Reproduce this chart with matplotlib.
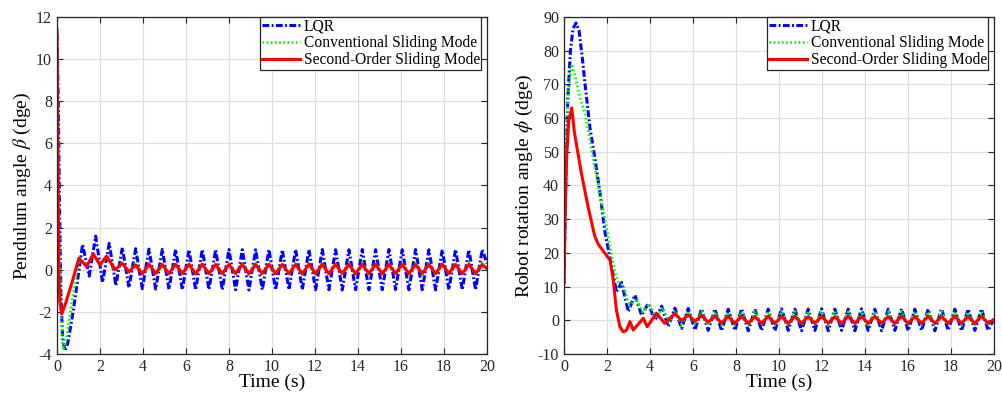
import numpy as np
import matplotlib
matplotlib.use("Agg")
import matplotlib.pyplot as plt

plt.rcParams['font.family'] = ['Liberation Serif', 'DejaVu Serif']
plt.rcParams['mathtext.fontset'] = 'stix'
plt.rcParams['axes.unicode_minus'] = False

labels = ["LQR", "Conventional Sliding Mode", "Second-Order Sliding Mode"]

# ---- left panel: pendulum angle ----
# transient part (time, value)
beta_lqr_t = [0.0, 0.06, 0.12, 0.18, 0.26, 0.37, 0.5, 0.75, 1.0, 1.19, 1.5, 1.8, 2.12, 2.43, 2.74]
beta_lqr_y = [11.2, 8.0, 3.0, -1.0, -3.2, -3.85, -3.5, -2.0, -0.2, 1.2, -0.3, 1.6, -0.6, 1.25, -0.75]
beta_csm_t = [0.0, 0.05, 0.1, 0.17, 0.24, 0.3, 0.45, 0.7, 0.95, 1.1, 1.38, 1.7, 2.0, 2.31, 2.7]
beta_csm_y = [11.2, 7.0, 2.5, -1.5, -3.3, -3.8, -3.2, -1.5, 0.1, 0.55, 0.2, 0.7, 0.2, 0.6, -0.05]
beta_sosm_t = [0.0, 0.04, 0.08, 0.13, 0.22, 0.4, 0.7, 1.02, 1.38, 1.69, 2.0, 2.31, 2.7]
beta_sosm_y = [11.4, 6.0, 0.5, -1.5, -2.1, -1.6, -0.6, 0.55, 0.15, 0.75, 0.23, 0.65, 0.0]

# steady oscillation: times of peaks / troughs shared by the three curves
beta_ss_t = [3.04, 3.35, 3.66, 3.97, 4.28, 4.59, 4.90, 5.21, 5.52, 5.83,
             6.14, 6.45, 6.76, 7.07, 7.38, 7.69, 8.00, 8.31, 8.62, 8.93,
             9.24, 9.55, 9.86, 10.17, 10.48, 10.79, 11.10, 11.41, 11.72, 12.03,
             12.34, 12.65, 12.96, 13.27, 13.58, 13.89, 14.20, 14.51, 14.82, 15.13,
             15.44, 15.75, 16.06, 16.37, 16.68, 16.99, 17.30, 17.61, 17.92, 18.23,
             18.54, 18.85, 19.16, 19.47, 19.78, 20.00]
beta_ss_lqr = [1.05, -0.85, 1.0, -0.9, 0.98, -0.92, 0.97, -0.93, 0.96, -0.95,
               0.95, -0.95, 0.96, -0.94, 0.95, -0.95, 0.96, -0.95, 0.95, -0.96,
               0.95, -0.95, 0.96, -0.95, 0.95, -0.95, 0.96, -0.94, 0.95, -0.95,
               0.96, -0.95, 0.95, -0.96, 0.95, -0.95, 0.96, -0.95, 0.95, -0.95,
               0.96, -0.94, 0.95, -0.95, 0.96, -0.95, 0.95, -0.96, 0.95, -0.95,
               0.96, -0.95, 0.95, -0.95, 0.96, 0.3]
beta_ss_csm = [0.35, -0.15, 0.32, -0.2, 0.3, -0.22, 0.3, -0.22, 0.3, -0.23,
               0.3, -0.23, 0.31, -0.22, 0.3, -0.23, 0.3, -0.22, 0.31, -0.23,
               0.3, -0.23, 0.3, -0.22, 0.31, -0.23, 0.3, -0.22, 0.3, -0.23,
               0.31, -0.22, 0.3, -0.23, 0.3, -0.22, 0.31, -0.23, 0.3, -0.23,
               0.3, -0.22, 0.31, -0.23, 0.3, -0.22, 0.3, -0.23, 0.31, -0.22,
               0.3, -0.23, 0.3, -0.22, 0.3, 0.1]
beta_ss_sosm = [0.3, -0.1, 0.23, -0.2, 0.26, -0.18, 0.25, -0.19, 0.26, -0.18,
                0.25, -0.19, 0.26, -0.18, 0.25, -0.19, 0.25, -0.18, 0.26, -0.19,
                0.25, -0.18, 0.26, -0.19, 0.25, -0.18, 0.25, -0.19, 0.26, -0.18,
                0.25, -0.19, 0.26, -0.18, 0.25, -0.19, 0.25, -0.18, 0.26, -0.19,
                0.25, -0.18, 0.26, -0.19, 0.25, -0.18, 0.25, -0.19, 0.26, -0.18,
                0.25, -0.19, 0.26, -0.18, 0.25, 0.05]

# ---- right panel: robot rotation angle ----
phi_lqr_t = [0.0, 0.08, 0.18, 0.3, 0.42, 0.56, 0.7, 0.85, 0.98, 1.21, 1.44, 1.67, 1.91, 2.14,
             2.44, 2.68, 2.99, 3.3, 3.61, 3.92, 4.23, 4.54, 4.85]
phi_lqr_y = [11.0, 40.0, 66.0, 80.0, 86.5, 88.2, 86.0, 78.0, 70.0, 57.0, 48.0, 38.0, 26.0, 18.5,
             8.5, 11.2, 2.6, 7.5, 1.5, 5.0, 0.0, 4.2, -1.8]
phi_csm_t = [0.0, 0.08, 0.2, 0.36, 0.5, 0.75, 1.0, 1.3, 1.6, 1.9, 2.14, 2.37, 2.55,
             2.75, 3.05, 3.35, 3.66, 3.97, 4.28, 4.59, 4.9]
phi_csm_y = [11.0, 45.0, 68.0, 76.0, 73.0, 66.0, 61.0, 50.0, 40.0, 30.0, 22.0, 14.0, 11.0,
             10.5, 4.0, 6.5, 2.5, 4.8, 0.6, 3.8, -0.6]
phi_sosm_t = [0.0, 0.05, 0.12, 0.22, 0.36, 0.49, 0.81, 1.12, 1.43, 1.6, 1.83, 2.14, 2.29, 2.44,
              2.6, 2.75, 2.9, 3.07, 3.22, 3.69, 3.87, 4.3, 4.68]
phi_sosm_y = [11.0, 30.0, 48.0, 59.0, 63.0, 55.5, 43.6, 33.7, 25.0, 22.5, 20.5, 17.9, 12.0, 3.0,
              -1.9, -3.4, -3.0, -0.4, -2.9, 0.6, -1.9, 2.1, -0.9]

phi_ss_t = [5.16, 5.47, 5.78, 6.09, 6.40, 6.71, 7.02, 7.33, 7.64, 7.95,
            8.26, 8.57, 8.88, 9.19, 9.50, 9.81, 10.12, 10.43, 10.74, 11.05,
            11.36, 11.67, 11.98, 12.29, 12.60, 12.91, 13.22, 13.53, 13.84, 14.15,
            14.46, 14.77, 15.08, 15.39, 15.70, 16.01, 16.32, 16.63, 16.94, 17.25,
            17.56, 17.87, 18.18, 18.49, 18.80, 19.11, 19.42, 19.73, 20.00]
phi_ss_lqr = [3.6, -2.4, 3.5, -2.9, 3.4, -3.0, 3.3, -3.1, 3.3, -3.0,
              3.4, -3.1, 3.3, -3.0, 3.3, -3.1, 3.4, -3.0, 3.3, -3.1,
              3.3, -3.0, 3.4, -3.1, 3.3, -3.0, 3.3, -3.1, 3.4, -3.0,
              3.3, -3.1, 3.3, -3.0, 3.4, -3.1, 3.3, -3.0, 3.3, -3.1,
              3.4, -3.0, 3.3, -3.1, 3.3, -3.0, 3.3, -3.0, 0.5]
phi_ss_csm = [2.9, -1.2, 2.7, -1.4, 2.6, -1.5, 2.6, -1.5, 2.5, -1.5,
              2.6, -1.5, 2.6, -1.4, 2.5, -1.5, 2.6, -1.5, 2.6, -1.5,
              2.5, -1.4, 2.6, -1.5, 2.6, -1.5, 2.5, -1.5, 2.6, -1.4,
              2.6, -1.5, 2.5, -1.5, 2.6, -1.5, 2.6, -1.4, 2.5, -1.5,
              2.6, -1.5, 2.6, -1.5, 2.5, -1.4, 2.6, -1.5, 0.4]
phi_ss_sosm = [2.0, -0.1, 1.6, -0.3, 1.4, -0.6, 1.3, -0.8, 1.2, -0.9,
               1.2, -0.9, 1.1, -0.9, 1.2, -0.9, 1.1, -0.9, 1.2, -0.9,
               1.1, -0.9, 1.2, -0.9, 1.1, -0.9, 1.2, -0.9, 1.1, -0.9,
               1.2, -0.9, 1.1, -0.9, 1.2, -0.9, 1.1, -0.9, 1.2, -0.9,
               1.1, -0.9, 1.2, -0.9, 1.1, -0.9, 1.2, -0.9, 0.2]


def style_axes(ax, ylim, yticks, ylabel):
    ax.set_xlim(0, 20)
    ax.set_ylim(*ylim)
    ax.set_xticks(np.arange(0, 21, 2))
    ax.set_yticks(yticks)
    ax.grid(True, color='#dedede', linewidth=0.9)
    ax.set_axisbelow(True)
    ax.tick_params(direction='in', top=True, right=True, labelsize=11.5,
                   colors='#262626', length=4, width=0.8)
    for s in ax.spines.values():
        s.set_color('#262626')
        s.set_linewidth(0.9)
    ax.set_xlabel('Time (s)', fontsize=14, labelpad=-1)
    ax.set_ylabel(ylabel, fontsize=14, labelpad=2)
    leg = ax.legend(loc='upper right', fontsize=11.2, frameon=True, fancybox=False,
                    edgecolor='#262626', framealpha=1, borderpad=0.1,
                    labelspacing=0.06, handlelength=2.5, handletextpad=0.2,
                    borderaxespad=0.0, bbox_to_anchor=(0.987, 1.0))
    leg.get_frame().set_linewidth(0.9)


def plot_panel(ax, lqr, csm, sosm):
    ax.plot(lqr[0], lqr[1], color='#0000ff', lw=2.2, dashes=[2.2, 0.8, 0.6, 0.8], label=labels[0])
    ax.plot(csm[0], csm[1], color='#00ff00', lw=2.0, linestyle=(0, (0.6, 0.9)), label=labels[1])
    ax.plot(sosm[0], sosm[1], color='#ff0000', lw=2.2, label=labels[2])


fig = plt.figure(figsize=(10.03, 3.97), dpi=100)
ax1 = fig.add_axes([0.0568, 0.1083, 0.4287, 0.849])
ax2 = fig.add_axes([0.5623, 0.1083, 0.4287, 0.849])

plot_panel(ax1,
           (beta_lqr_t + beta_ss_t, beta_lqr_y + beta_ss_lqr),
           (beta_csm_t + beta_ss_t, beta_csm_y + beta_ss_csm),
           (beta_sosm_t + beta_ss_t, beta_sosm_y + beta_ss_sosm))
style_axes(ax1, (-4, 12), np.arange(-4, 13, 2), r'Pendulum angle $\beta$ (dge)')

plot_panel(ax2,
           (phi_lqr_t + phi_ss_t, phi_lqr_y + phi_ss_lqr),
           (phi_csm_t + phi_ss_t, phi_csm_y + phi_ss_csm),
           (phi_sosm_t + phi_ss_t, phi_sosm_y + phi_ss_sosm))
style_axes(ax2, (-10, 90), np.arange(-10, 91, 10), r'Robot rotation angle $\phi$ (dge)')

fig.savefig('out.png', dpi=100)
